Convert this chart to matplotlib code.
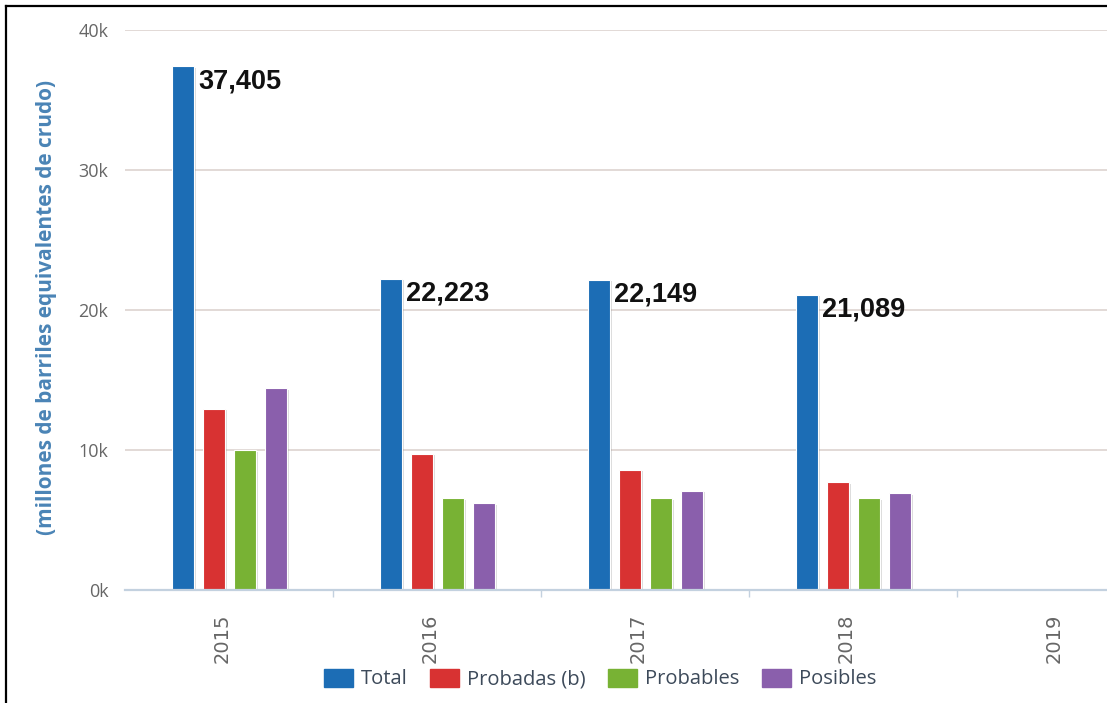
import matplotlib
matplotlib.use("Agg")
import matplotlib.pyplot as plt
import matplotlib.patheffects as pe
from matplotlib.lines import Line2D
from matplotlib.patches import Patch
import matplotlib.transforms as mtransforms
import numpy as np

years = ["2015", "2016", "2017", "2018", "2019"]
series_names = ["Total", "Probadas (b)", "Probables", "Posibles"]
total = [37405, 22223, 22149, 21089, 0]
probadas = [12950, 9750, 8570, 7690, 0]
probables = [9990, 6560, 6550, 6550, 0]
posibles = [14420, 6180, 7070, 6900, 0]
total_labels = ["37,405", "22,223", "22,149", "21,089"]
yticks = [0, 10000, 20000, 30000, 40000]
ytick_labels = ["0k", "10k", "20k", "30k", "40k"]
colors = ["#1c6db5", "#d83232", "#78b234", "#8a5fac"]

W, H = 1107, 703
fig = plt.figure(figsize=(W / 100, H / 100), dpi=100)
fig.patch.set_facecolor("white")

left_px, right_px, top_px, bot_px = 125, 1107, 30, 590
ax = fig.add_axes([left_px / W, 1 - bot_px / H, (right_px - left_px) / W, (bot_px - top_px) / H])
ax.set_facecolor("white")

cat_w = 208.0
x = np.arange(len(years))
pitch = 31 / cat_w
bw = 22 / cat_w
data = [total, probadas, probables, posibles]
shadow = [pe.SimplePatchShadow(offset=(1.5, -1), alpha=0.25, shadow_rgbFace="#777777"), pe.Normal()]
bars_total = None
for i, (vals, col, name) in enumerate(zip(data, colors, series_names)):
    off = (i - 1.5) * pitch
    b = ax.bar(x + off, vals, width=bw, color=col, edgecolor="white", linewidth=0.8,
               label=name, zorder=3)
    for r in b:
        r.set_path_effects(shadow)
    if i == 0:
        bars_total = b

# data labels for Total
for r, lab in zip(bars_total, total_labels):
    ax.annotate(lab, xy=(r.get_x() + r.get_width(), r.get_height()),
                xytext=(3.5, -1.5), textcoords="offset points", ha="left", va="top",
                fontsize=19.5, fontweight="bold", color="#111111",
                family="Liberation Sans", zorder=5)

ax.set_yticks(yticks)
ax.set_yticklabels(ytick_labels)
ax.grid(axis="y", color="#ddd3cf", linewidth=1.2, zorder=0)
ax.set_axisbelow(True)
for s in ["top", "right", "left"]:
    ax.spines[s].set_visible(False)
ax.spines["bottom"].set_color("#c3d1df")
ax.spines["bottom"].set_linewidth(1.6)
ax.spines["bottom"].set_zorder(4)

ax.tick_params(axis="y", length=0, pad=12, labelsize=13, labelcolor="#666666")
for t in ax.get_yticklabels():
    t.set_family("Open Sans")

ax.set_xticks(x)
ax.set_xticklabels(years, rotation=90, fontsize=14, color="#666666", family="DejaVu Sans")
ax.tick_params(axis="x", which="major", length=0, pad=17)
ax.set_xticks(np.arange(len(years)) + 0.5, minor=True)
ax.tick_params(axis="x", which="minor", length=5, color="#c3d1df", width=1)
offset = mtransforms.ScaledTranslation(-7 / 100, 0, fig.dpi_scale_trans)
for t in ax.get_xticklabels():
    t.set_transform(t.get_transform() + offset)
    t.set_va("top")

# limits set after ticks so they are not expanded
ax.set_xlim(-0.5, -0.5 + (right_px - left_px) / cat_w)
ax.set_ylim(0, 40000)

fig.text(47 / W, 1 - 307 / H, "(millones de barriles equivalentes de crudo)", rotation=90,
         ha="center", va="center", fontsize=15, fontweight="bold", color="#4a84b6",
         family="Open Sans")

handles = [Patch(facecolor=c, edgecolor=c, label=n) for c, n in zip(colors, series_names)]
leg = fig.legend(handles=handles, loc="center", bbox_to_anchor=(600 / W, 1 - 679 / H), ncol=4,
                 frameon=False, handlelength=1.45, handleheight=1.0,
                 handletextpad=0.4, columnspacing=1.1, borderaxespad=0,
                 prop={"family": "Open Sans", "size": 14.5})
for t in leg.get_texts():
    t.set_color("#3d4a5a")

# outer frame lines (top and left)
fig.add_artist(Line2D([6 / W, 6 / W], [0, 1 - 6 / H], color="black", linewidth=1.6,
                      transform=fig.transFigure))
fig.add_artist(Line2D([6 / W, 1], [1 - 6 / H, 1 - 6 / H], color="black", linewidth=1.6,
                      transform=fig.transFigure))

fig.savefig("out.png", dpi=100, facecolor="white")
